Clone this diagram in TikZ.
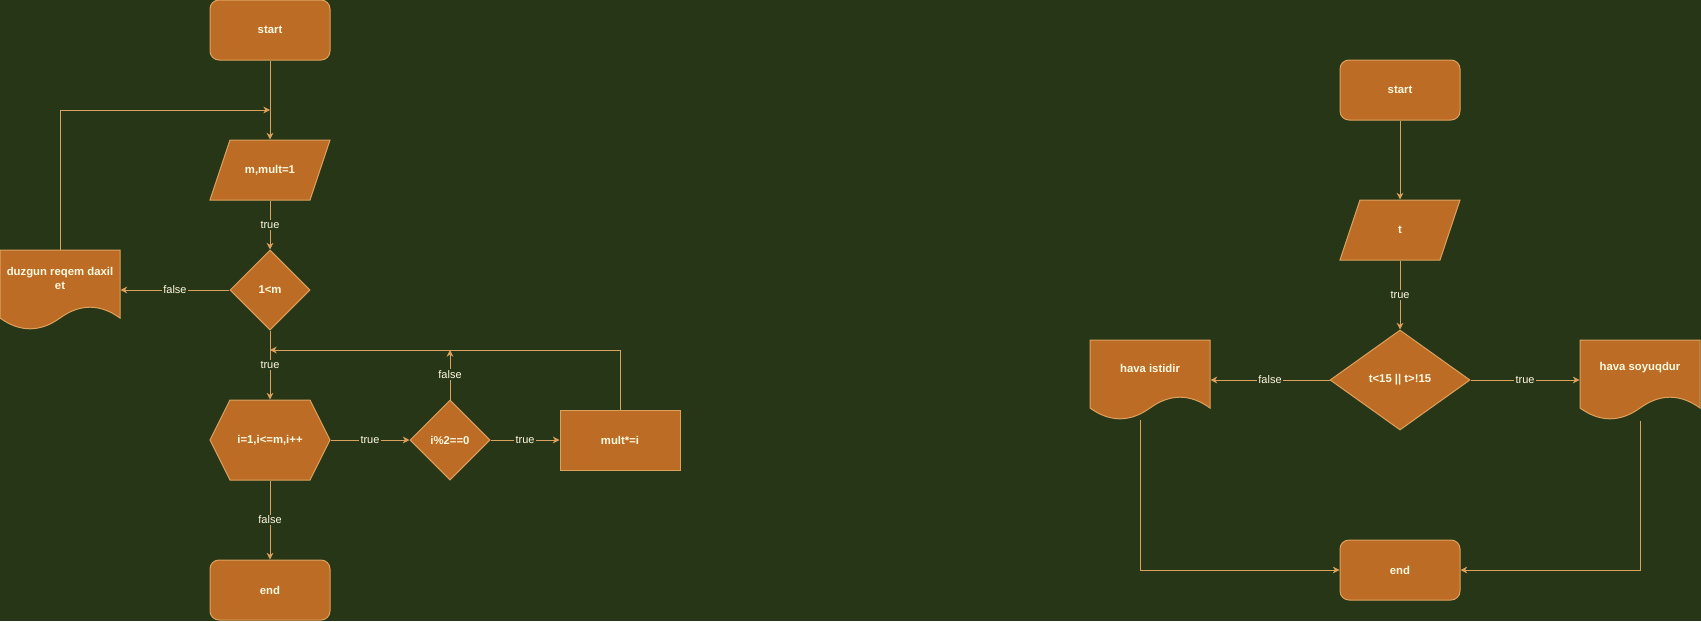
\documentclass[tikz,border=0pt]{standalone}
\usepackage{fontspec}
\setmainfont{Liberation Sans}
\usepackage{tikz}
\usetikzlibrary{arrows.meta,shapes.geometric}

\definecolor{bgcol}{HTML}{283618}
\definecolor{boxfill}{HTML}{BC6C25}
\definecolor{boxline}{HTML}{DDA15E}
\definecolor{fontcol}{HTML}{FEFAE0}

\begin{document}
\begin{tikzpicture}[->,>={Stealth[length=5pt,width=5pt,inset=1.5pt]},x=0.75pt,y=-0.75pt,line width=0.75pt,color=boxline]
\tikzstyle{every node}=[text=fontcol,font=\fontsize{8.5}{10.5}\selectfont\bfseries]
\tikzstyle{term}=[rectangle,rounded corners=6.75pt,fill=boxfill,draw=boxline,minimum width=90pt,minimum height=45pt]
\tikzstyle{cond}=[diamond,fill=boxfill,draw=boxline,minimum width=60pt,minimum height=60pt,inner sep=0pt]
\tikzstyle{proc}=[rectangle,fill=boxfill,draw=boxline,minimum width=90pt,minimum height=45pt]
\tikzstyle{ghost}=[rectangle,minimum width=90pt,minimum height=60pt,inner sep=0pt]
\tikzstyle{outline}=[-,fill=boxfill,draw=boxline]
\tikzstyle{lbl}=[fill=bgcol,inner sep=1pt,font=\fontsize{8.25}{10}\selectfont]

\useasboundingbox (0,0) rectangle (1701,621);
\fill[bgcol,-] (0,0) rectangle (1701,621);

% outlines of documents, inputs and loop
\foreach \x/\y in {0/250,1090/340,1580/340}
  \filldraw[outline,shift={(\x,\y)}] (0,0) -- (120,0) -- (120,68) .. controls (100,53.6) and (80,53.6) .. (60,68) .. controls (40,82.4) and (20,82.4) .. (0,68) -- cycle;
\foreach \x/\y in {210/140,1340/200}
  \filldraw[outline,shift={(\x,\y)}] (20,0) -- (120,0) -- (100,60) -- (0,60) -- cycle;
\filldraw[outline] (210,440) -- (230,400) -- (310,400) -- (330,440) -- (310,480) -- (230,480) -- cycle;

% left chart
\node[term]                      (s1)  at (270,30)  {start};
\node[ghost,minimum height=45pt] (p1)  at (270,170) {m,mult=1};
\node[cond]                      (d1)  at (270,290) {1<m};
\node[ghost]                     (dz)  at (60,290)  {};
\node[align=center]              (dzt) at (60,278)  {duzgun reqem daxil\\et};
\node[ghost]                     (hx)  at (270,440) {i=1,i<=m,i++};
\node[cond]                      (d2)  at (450,440) {i\%2==0};
\node[proc]                      (r1)  at (620,440) {mult*=i};
\node[term]                      (e1)  at (270,590) {end};
\coordinate (k1) at (270,110);
\coordinate (k2) at (270,350);

\path (s1) edge                   (p1)
      (p1) edge node[lbl] {true}  (d1)
      (d1) edge node[lbl] {false} (dz)
      (d1) edge node[lbl] {true}  (hx)
      (hx) edge node[lbl] {true}  (d2)
      (d2) edge node[lbl] {true}  (r1)
      (hx) edge node[lbl] {false} (e1)
      (d2) edge node[lbl] {false} (d2.north |- k2);
\draw (dz.north) |- (k1);
\draw (r1.north) |- (k2);

% right chart
\node[term]                      (s2)  at (1400,90)  {start};
\node[ghost,minimum height=45pt] (p2)  at (1400,230) {t};
\node[cond,minimum width=105pt,minimum height=75pt] (d3) at (1400,380) {t<15 || t>!15};
\node[ghost]                     (hi)  at (1150,380) {};
\node                            (hit) at (1150,368) {hava istidir};
\node[ghost]                     (hs)  at (1640,380) {};
\node                            (hst) at (1640,368) {hava soyuqdur};
\node[term]                      (e2)  at (1400,570) {end};
\coordinate (o2) at (1140,420);

\path (s2) edge                   (p2)
      (p2) edge node[lbl] {true}  (d3)
      (d3) edge node[lbl] {false} (hi)
      (d3) edge node[lbl] {true}  (hs);
\draw (o2) |- (e2.west);
\draw (hs.south) |- (e2.east);
\end{tikzpicture}
\end{document}
